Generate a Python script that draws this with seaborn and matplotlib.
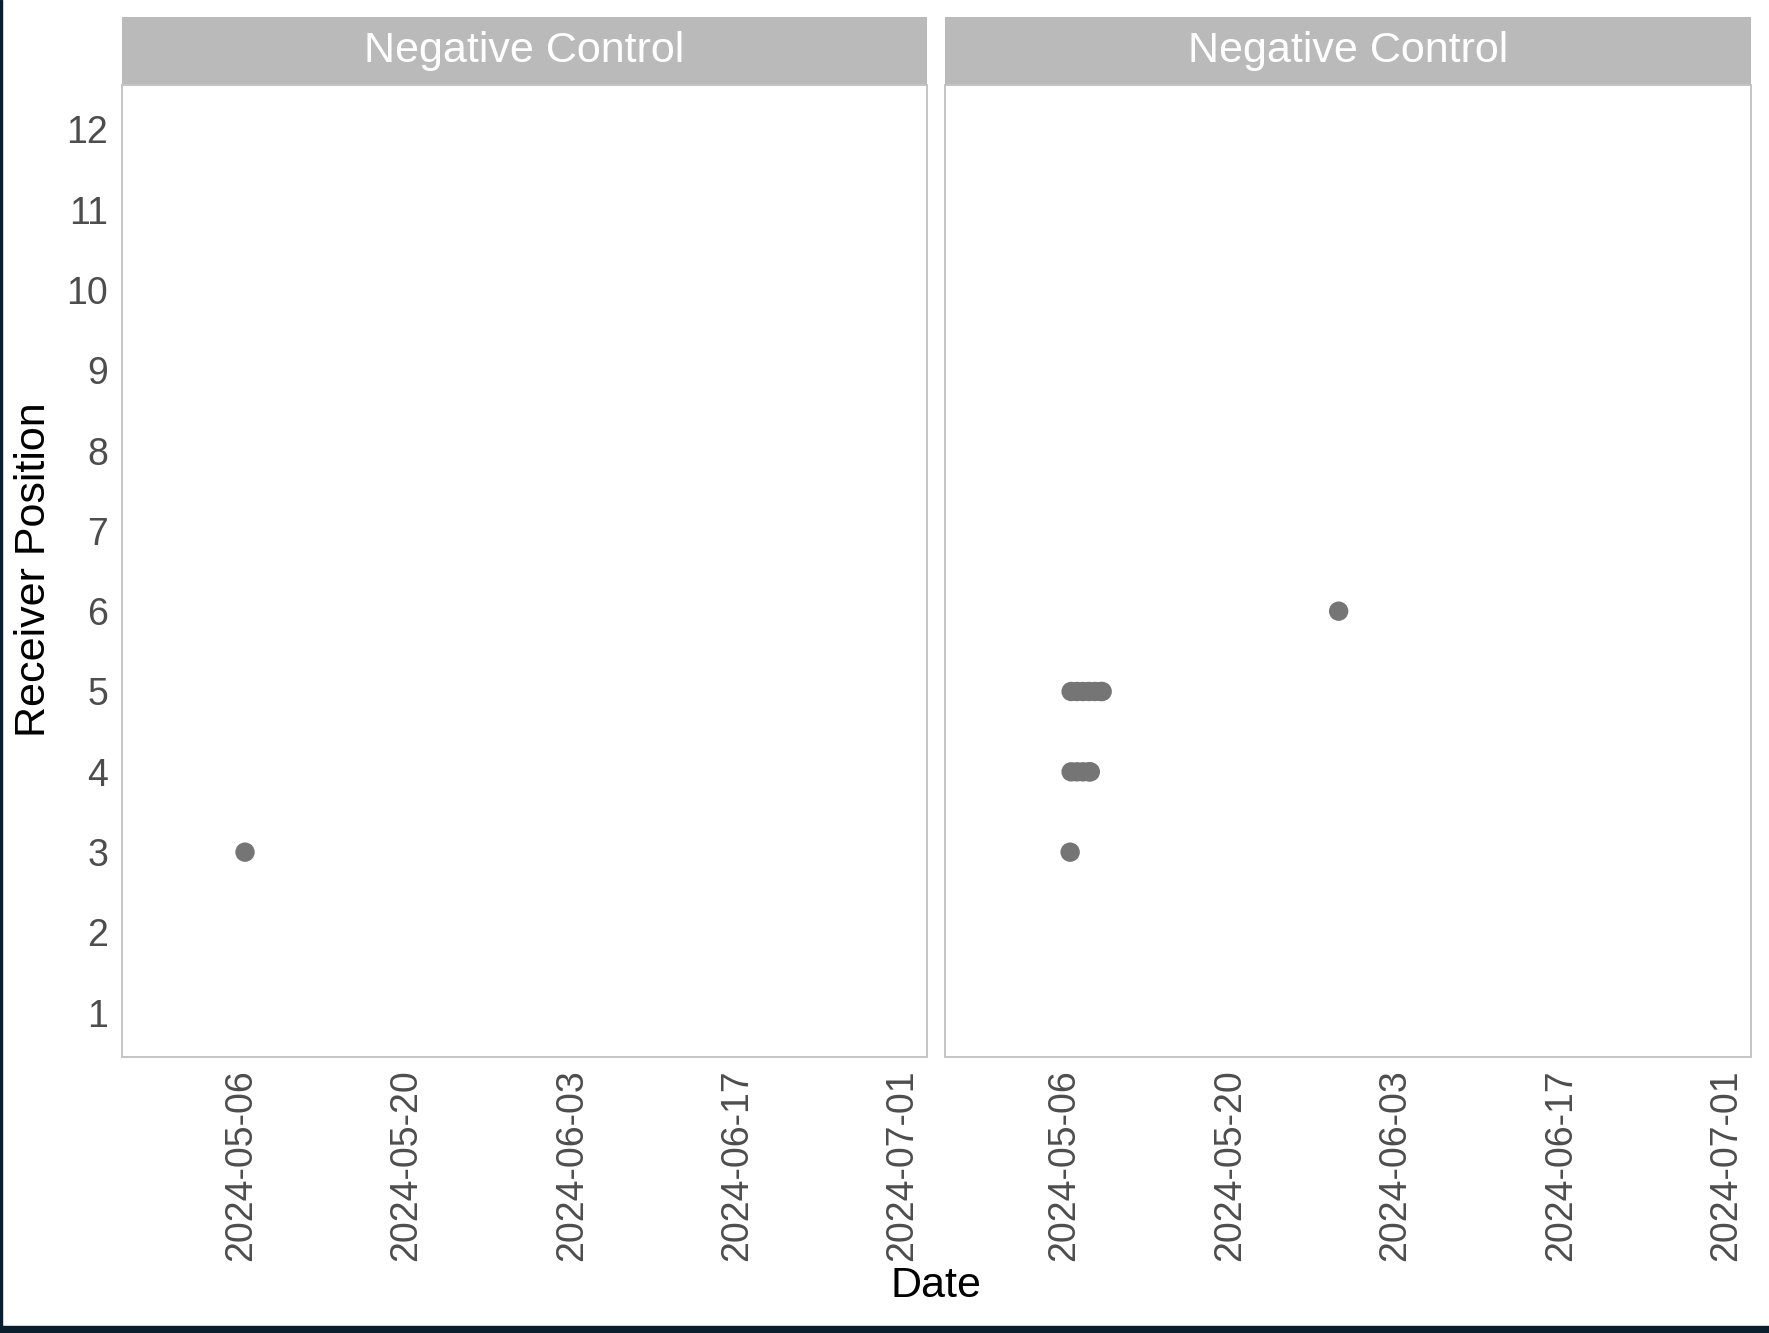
import pandas as pd
import matplotlib
matplotlib.use("Agg")
import matplotlib.pyplot as plt
import matplotlib.dates as mdates
import matplotlib.transforms as mtransforms
from matplotlib.patches import Rectangle
import seaborn as sns

# detections per facet (both facets are titled "Negative Control")
panel_titles = ["Negative Control", "Negative Control"]

left_dates = ["2024-05-07 08:00"]
left_positions = [3]

right_dates = [
    "2024-05-07 12:00",
    "2024-05-07 14:00", "2024-05-08 02:00", "2024-05-08 14:00", "2024-05-09 02:00", "2024-05-09 05:00",
    "2024-05-07 14:00", "2024-05-08 02:00", "2024-05-08 14:00", "2024-05-09 02:00", "2024-05-09 14:00",
    "2024-05-10 02:00", "2024-05-10 05:00",
    "2024-05-30 05:00",
]
right_positions = [3, 4, 4, 4, 4, 4, 5, 5, 5, 5, 5, 5, 5, 6]

tick_dates = ["2024-05-06", "2024-05-20", "2024-06-03", "2024-06-17", "2024-07-01"]
y_ticks = list(range(1, 13))

left_df = pd.DataFrame({"date": pd.to_datetime(left_dates), "pos": left_positions})
right_df = pd.DataFrame({"date": pd.to_datetime(right_dates), "pos": right_positions})

sns.set_style("white")
plt.rcParams["font.family"] = ["Liberation Sans", "DejaVu Sans"]

W, H = 1769, 1333
fig = plt.figure(figsize=(W / 100, H / 100), dpi=100)

# dark frame edges seen in the reference
fig.patches.append(Rectangle((0, 0), 2 / W, 1, transform=fig.transFigure, color="#0b1e2d", zorder=0))
fig.patches.append(Rectangle((0, 0), 1, 7 / H, transform=fig.transFigure, color="#0b1e2d", zorder=0))

bottom = 1 - 1057 / H
top = 1 - 85 / H
strip_h = (85 - 17) / H
axes = [
    fig.add_axes([122 / W, bottom, (927 - 122) / W, top - bottom]),
    fig.add_axes([945 / W, bottom, (1751 - 945) / W, top - bottom]),
]

xmin = pd.Timestamp("2024-04-26 22:00")
xmax = pd.Timestamp("2024-07-04 02:00")
shift = mtransforms.ScaledTranslation(0.12, 0, fig.dpi_scale_trans)

for i, (ax, df) in enumerate(zip(axes, [left_df, right_df])):
    sns.scatterplot(data=df, x="date", y="pos", ax=ax, color="#757575", s=195,
                    edgecolor="none", linewidth=0, zorder=3)
    ax.set_xlim(xmin, xmax)
    ax.set_ylim(0.45, 12.55)
    ax.set_yticks(y_ticks)
    ax.set_xticks(pd.to_datetime(tick_dates))
    ax.xaxis.set_major_formatter(mdates.DateFormatter("%Y-%m-%d"))
    ax.tick_params(axis="both", colors="#b3b3b3", length=6, width=1.2,
                   labelsize=27, labelcolor="#4d4d4d", pad=4)
    ax.tick_params(axis="x", labelrotation=90, pad=3)
    for lbl in ax.get_xticklabels():
        lbl.set_transform(lbl.get_transform() + shift)
    for sp in ax.spines.values():
        sp.set_color("#c4c4c4")
        sp.set_linewidth(1.4)
    ax.set_xlabel("")
    ax.set_ylabel("")
    if i == 1:
        ax.tick_params(axis="y", left=False, labelleft=False)
    # facet strip
    ax.add_patch(Rectangle((0, 1), 1, strip_h / (top - bottom), transform=ax.transAxes,
                           facecolor="#bababa", edgecolor="none", clip_on=False))
    ax.text(0.5, 1 + strip_h / (top - bottom) / 2, panel_titles[i], transform=ax.transAxes,
            ha="center", va="center", color="white", fontsize=31)

fig.text(34 / W, 1 - 570 / H, "Receiver Position", rotation=90, ha="center", va="center",
         fontsize=31, color="black")
fig.text(936 / W, 1 - 1286 / H, "Date", ha="center", va="center", fontsize=31, color="black")

fig.savefig("out.png", dpi=100)
